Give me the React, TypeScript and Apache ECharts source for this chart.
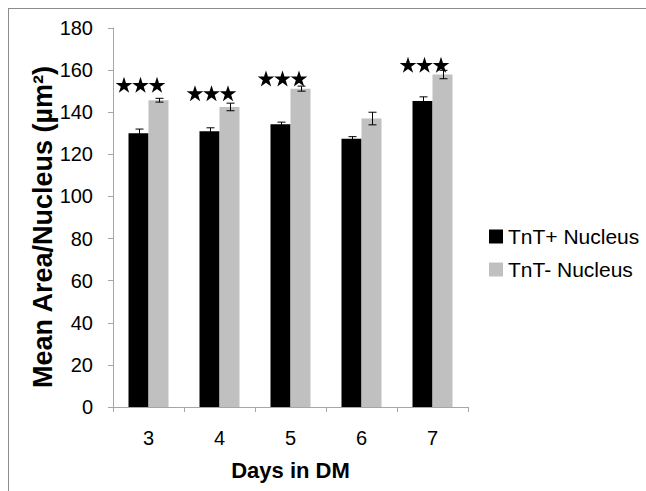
import React, { useEffect, useRef } from "react";
import * as echarts from "echarts";

const categories = ["3", "4", "5", "6", "7"];
const tntPos = [130, 131, 134.3, 127.4, 145.3];
const tntPosErr = [2, 1.6, 1, 1, 2];
const tntNeg = [145.7, 142.5, 151.2, 137, 157.9];
const tntNegErr = [0.9, 1.8, 1.2, 3, 2];
const starLevels: (number | null)[] = [153, 149, 156, null, 162.5];
const yTicks = [0, 20, 40, 60, 80, 100, 120, 140, 160, 180];

const FONT = "'Liberation Sans', Arial, sans-serif";

function starPoints(cx: number, cy: number, R: number): number[][] {
  const r = R * 0.382;
  const pts: number[][] = [];
  for (let k = 0; k < 10; k++) {
    const ang = -Math.PI / 2 + (k * Math.PI) / 5;
    const rad = k % 2 === 0 ? R : r;
    pts.push([cx + rad * Math.cos(ang), cy + rad * Math.sin(ang)]);
  }
  return pts;
}

export default function App() {
  const ref = useRef<HTMLDivElement>(null);
  useEffect(() => {
    if (!ref.current) return;
    const chart = echarts.init(ref.current, undefined, { renderer: "svg" });

    const errData: number[][] = [];
    categories.forEach((_, i) => {
      errData.push([i, tntPos[i], tntPosErr[i], -1]);
      errData.push([i, tntNeg[i], tntNegErr[i], 1]);
    });
    const starData: number[][] = [];
    starLevels.forEach((v, i) => {
      if (v !== null) starData.push([i, v]);
    });

    const axisColor = "#a6a6a6";

    chart.setOption({
      animation: false,
      backgroundColor: "#ffffff",
      textStyle: { fontFamily: FONT },
      graphic: [
        {
          type: "line",
          shape: { x1: 8, y1: 8.5, x2: 646, y2: 8.5 },
          style: { stroke: "#8c8c8c", lineWidth: 1 },
        },
        {
          type: "line",
          shape: { x1: 8.5, y1: 8, x2: 8.5, y2: 491 },
          style: { stroke: "#8c8c8c", lineWidth: 1 },
        },
        {
          type: "text",
          x: 43,
          y: 227,
          rotation: Math.PI / 2,
          style: {
            text: "Mean Area/Nucleus (µm²)",
            fontSize: 27,
            fontWeight: "bold",
            fontFamily: FONT,
            fill: "#000",
            align: "center",
            verticalAlign: "middle",
          },
        },
      ],
      grid: { left: 113, right: 178, top: 28, bottom: 84, containLabel: false },
      legend: {
        orient: "vertical",
        left: 489,
        top: 226,
        padding: 0,
        itemWidth: 14,
        itemHeight: 14,
        itemGap: 12,
        icon: "rect",
        data: ["TnT+ Nucleus", "TnT- Nucleus"],
        textStyle: { fontSize: 21, color: "#000", fontFamily: FONT },
      },
      xAxis: {
        type: "category",
        data: categories,
        axisLine: { show: true, lineStyle: { color: axisColor, width: 1 } },
        axisTick: { show: true, alignWithLabel: false, length: 5, lineStyle: { color: axisColor } },
        axisLabel: { color: "#000", fontSize: 20, margin: 21, fontFamily: FONT },
        name: "Days in DM",
        nameLocation: "middle",
        nameGap: 52,
        nameTextStyle: { fontSize: 22, fontWeight: "bold", color: "#000", fontFamily: FONT },
        splitLine: { show: false },
      },
      yAxis: {
        type: "value",
        min: 0,
        max: 180,
        interval: 20,
        axisLine: { show: true, lineStyle: { color: axisColor, width: 1 } },
        axisTick: { show: true, length: 5, lineStyle: { color: axisColor } },
        axisLabel: {
          color: "#000",
          fontSize: 20,
          margin: 20,
          fontFamily: FONT,
          formatter: (v: number) => (yTicks.includes(v) ? String(v) : ""),
        },
        splitLine: { show: false },
      },
      series: [
        {
          name: "TnT+ Nucleus",
          type: "bar",
          data: tntPos,
          barWidth: 20,
          barGap: "0%",
          itemStyle: { color: "#000000" },
        },
        {
          name: "TnT- Nucleus",
          type: "bar",
          data: tntNeg,
          barWidth: 20,
          barGap: "0%",
          itemStyle: { color: "#c0c0c0" },
        },
        {
          name: "errors",
          type: "custom",
          data: errData,
          encode: { x: 0, y: 1 },
          z: 5,
          renderItem: (params: any, api: any) => {
            const idx = api.value(0);
            const v = api.value(1);
            const e = api.value(2);
            const s = api.value(3);
            const top = api.coord([idx, v + e]);
            const bot = api.coord([idx, v - e]);
            const x = Math.round(top[0] + s * 10) + 0.5;
            const cap = 4;
            const st = { stroke: "#000", lineWidth: 1 };
            return {
              type: "group",
              children: [
                { type: "line", shape: { x1: x, y1: top[1], x2: x, y2: bot[1] }, style: st },
                { type: "line", shape: { x1: x - cap, y1: top[1], x2: x + cap, y2: top[1] }, style: st },
                { type: "line", shape: { x1: x - cap, y1: bot[1], x2: x + cap, y2: bot[1] }, style: st },
              ],
            };
          },
        },
        {
          name: "stars",
          type: "custom",
          data: starData,
          encode: { x: 0, y: 1 },
          z: 6,
          renderItem: (params: any, api: any) => {
            const p = api.coord([api.value(0), api.value(1)]);
            const R = 8.8;
            const cx = p[0] - 8;
            const cy = p[1] + 0.8;
            return {
              type: "group",
              children: [-16.5, 0, 16.5].map((dx) => ({
                type: "polygon",
                shape: { points: starPoints(cx + dx, cy, R) },
                style: { fill: "#000" },
              })),
            };
          },
        },
      ],
    });
    return () => chart.dispose();
  }, []);
  return (
    <div
      ref={ref}
      style={{ position: "fixed", left: 0, top: 0, width: 646, height: 491 }}
    />
  );
}
